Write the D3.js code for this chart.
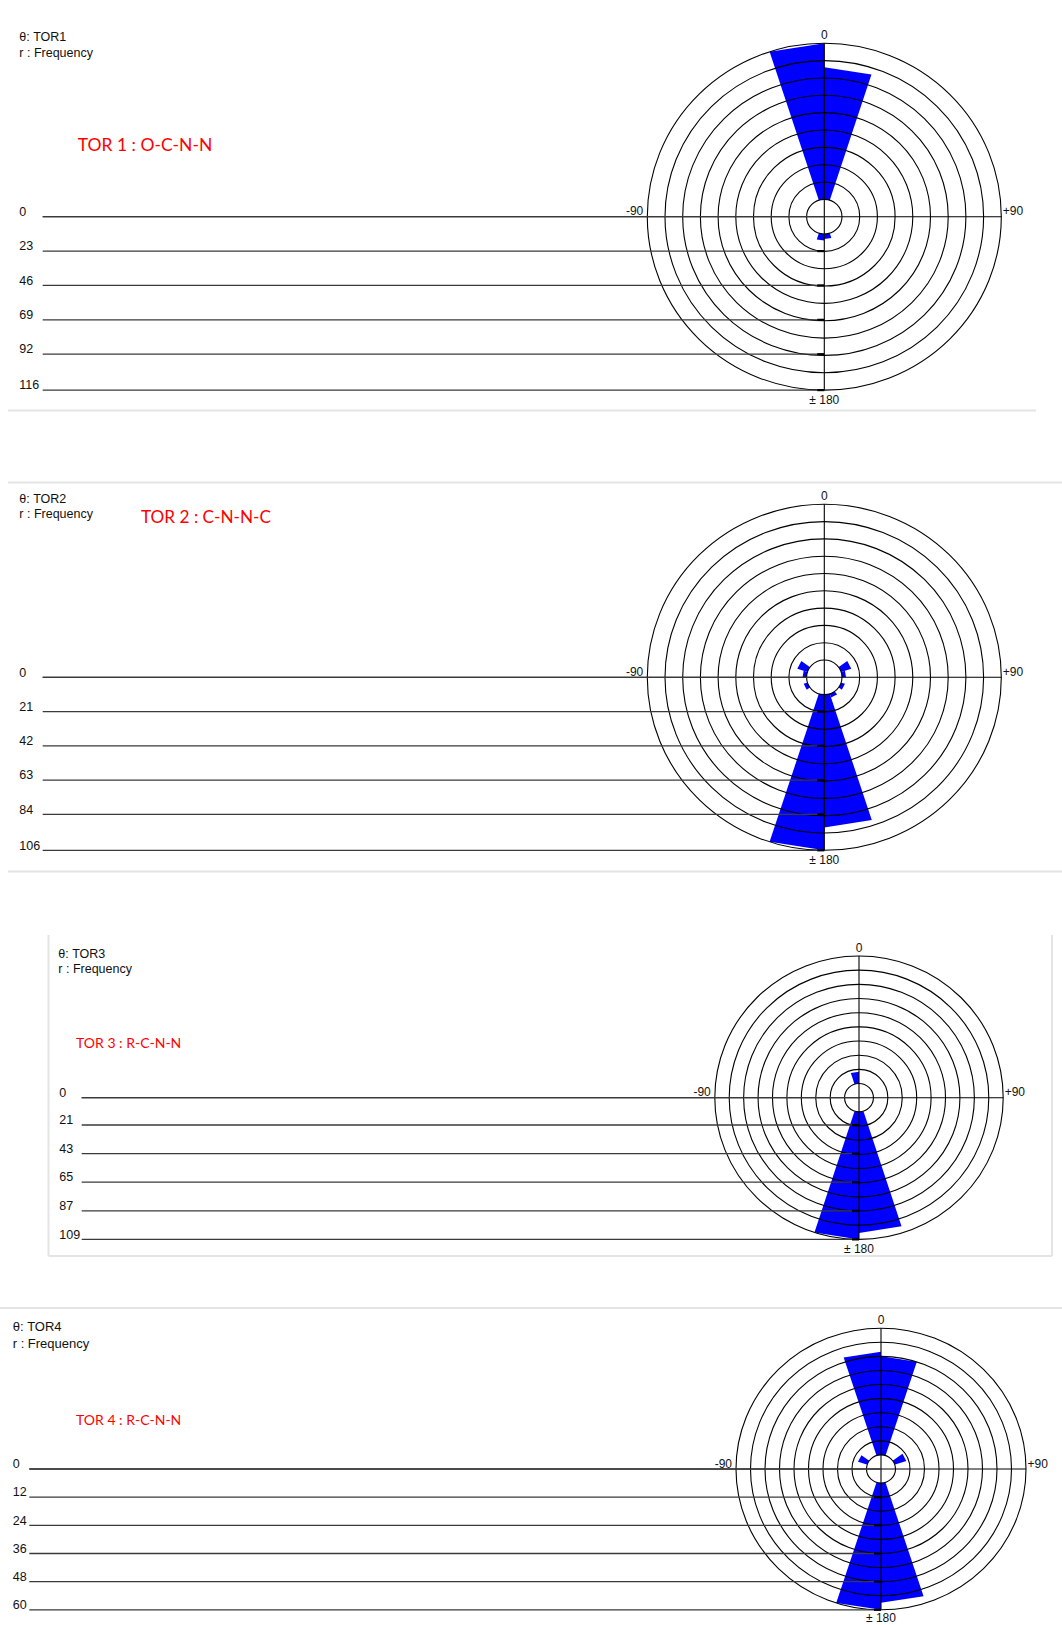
<!DOCTYPE html>
<html>
<head>
<meta charset="utf-8">
<script src="https://cdn.jsdelivr.net/npm/d3@7"></script>
<style>
  body { margin: 0; background: #fff; }
  svg { display: block; }
  text { font-family: "Liberation Sans", Arial, sans-serif; fill: #111; }
  .title { font-family: Lato, "Open Sans", sans-serif; fill: #ff0000; }
</style>
</head>
<body>
<svg id="chart" width="1062" height="1625"></svg>
<script>
// Torsion-angle bins (degrees): 20 bins of 18°, each starting at the listed angle
const binStart = [-180, -162, -144, -126, -108, -90, -72, -54, -36, -18,
                  0, 18, 36, 54, 72, 90, 108, 126, 144, 162];
const binWidth = 18;

// Frequencies per bin, in binStart order
const tor1Freq = [16, 0, 0, 0, 0, 0, 0, 0, 0, 116, 100, 0, 0, 0, 0, 0, 0, 0, 0, 15];
const tor2Freq = [106, 0, 0, 13, 0, 13, 17, 0, 0, 0, 0, 0, 0, 17, 13, 0, 13, 0, 13, 92];
const tor3Freq = [109, 0, 0, 0, 0, 0, 0, 0, 0, 20, 0, 0, 0, 0, 0, 0, 0, 0, 0, 104];
const tor4Freq = [60, 0, 0, 0, 0, 0, 10, 0, 0, 50, 48, 0, 0, 11, 0, 0, 0, 0, 0, 57];

// Radial (frequency) tick labels
const tor1Ticks = [0, 23, 46, 69, 92, 116];
const tor2Ticks = [0, 21, 42, 63, 84, 106];
const tor3Ticks = [0, 21, 43, 65, 87, 109];
const tor4Ticks = [0, 12, 24, 36, 48, 60];

// Angular axis labels and their angles
const angleLabels = ["0", "+90", "± 180", "-90"];
const angleLabelAt = [0, 90, 180, -90];

const thetaNames = ["θ: TOR1", "θ: TOR2", "θ: TOR3", "θ: TOR4"];
const radialName = "r : Frequency";
const titles = ["TOR 1 : O-C-N-N", "TOR 2 : C-N-N-C", "TOR 3 : R-C-N-N", "TOR 4 : R-C-N-N"];

const freqs = [tor1Freq, tor2Freq, tor3Freq, tor4Freq];
const ticks = [tor1Ticks, tor2Ticks, tor3Ticks, tor4Ticks];

// Placement of each polar plot on the page
const layouts = [
  { cx: 824.3, cy: 216.7, rx: 177, ry: 173.4, labX: 19.3, lineX: 42.7, headX: 19.3, headY: 41.2, headSize: 12.5, headGap: 15.6, titleX: 77.7, titleY: 151, titleSize: 17.5, botOff: 14 },
  { cx: 824.3, cy: 677.3, rx: 177, ry: 173.0, labX: 19.3, lineX: 42.7, headX: 19.3, headY: 502.8, headSize: 12.5, headGap: 15.6, titleX: 141, titleY: 523, titleSize: 17.2, botOff: 14 },
  { cx: 859.0, cy: 1097.7, rx: 144.2, ry: 141.7, labX: 59.3, lineX: 81.7, headX: 58.3, headY: 957.8, headSize: 12.5, headGap: 15.0, titleX: 76, titleY: 1048.3, titleSize: 14, botOff: 14 },
  { cx: 881.0, cy: 1469.0, rx: 145, ry: 140.8, labX: 12.7, lineX: 29.3, headX: 12.7, headY: 1330.5, headSize: 13, headGap: 17.3, titleX: 76, titleY: 1425, titleSize: 14, botOff: 12.5 }
];

// Light panel separators
const frames = [
  [8, 410.5, 1036, 410.5],
  [8, 482.5, 1062, 482.5],
  [8, 871.5, 1062, 871.5],
  [48.5, 935, 48.5, 1256],
  [48.5, 1256, 1052, 1256],
  [1052, 935, 1052, 1256],
  [0, 1308, 1062, 1308]
];

const svg = d3.select("#chart");
const rad = d => d * Math.PI / 180;

svg.append("g").selectAll("line").data(frames).join("line")
  .attr("x1", d => d[0]).attr("y1", d => d[1])
  .attr("x2", d => d[2]).attr("y2", d => d[3])
  .attr("stroke", "#e4e4e4").attr("stroke-width", 2);

freqs.forEach((freq, i) => {
  const L = layouts[i];
  const tk = ticks[i];
  const maxV = tk[tk.length - 1];
  const sx = d3.scaleLinear().domain([0, maxV]).range([0, L.rx]);
  const sy = d3.scaleLinear().domain([0, maxV]).range([0, L.ry]);
  const px = (v, a) => L.cx + sx(v) * Math.sin(rad(a));
  const py = (v, a) => L.cy - sy(v) * Math.cos(rad(a));
  const g = svg.append("g");

  // Histogram bars: one triangle per bin, drawn from the centre
  const bars = binStart.map((a, j) => ({ a0: a, a1: a + binWidth, v: freq[j] })).filter(d => d.v > 0);
  g.append("g").selectAll("polygon").data(bars).join("polygon")
    .attr("points", d => [[L.cx, L.cy], [px(d.v, d.a0), py(d.v, d.a0)], [px(d.v, d.a1), py(d.v, d.a1)]]
      .map(p => p.join(",")).join(" "))
    .attr("fill", "#0000ff");

  // Central hole
  const ringVals = d3.range(1, 11).map(k => maxV * k / 10);
  g.append("ellipse")
    .attr("cx", L.cx).attr("cy", L.cy)
    .attr("rx", sx(ringVals[0])).attr("ry", sy(ringVals[0]))
    .attr("fill", "#fff");

  // Concentric rings
  g.append("g").selectAll("ellipse").data(ringVals).join("ellipse")
    .attr("cx", L.cx).attr("cy", L.cy)
    .attr("rx", d => sx(d)).attr("ry", d => sy(d))
    .attr("fill", "none").attr("stroke", "#000").attr("stroke-width", 1.1);

  // Angular axes
  g.append("line")
    .attr("x1", L.cx).attr("x2", L.cx)
    .attr("y1", L.cy - sy(maxV)).attr("y2", L.cy + sy(maxV))
    .attr("stroke", "#000").attr("stroke-width", 1.1);
  g.append("line")
    .attr("x1", L.lineX).attr("x2", L.cx + sx(maxV))
    .attr("y1", L.cy).attr("y2", L.cy)
    .attr("stroke", "#000").attr("stroke-width", 1.1);

  // Radial scale: levelled guide lines running from the tick labels to the 180° axis
  const tickG = g.append("g").selectAll("g").data(tk).join("g");
  tickG.append("line")
    .attr("x1", L.lineX).attr("x2", L.cx)
    .attr("y1", d => L.cy + sy(d)).attr("y2", d => L.cy + sy(d))
    .attr("stroke", "#3a3a3a").attr("stroke-width", 1.3);
  tickG.filter(d => d > 0).append("line")
    .attr("x1", L.cx - 7).attr("x2", L.cx)
    .attr("y1", d => L.cy + sy(d)).attr("y2", d => L.cy + sy(d))
    .attr("stroke", "#000").attr("stroke-width", 2.2);
  tickG.append("text")
    .attr("x", L.labX).attr("y", d => L.cy + sy(d) - 0.8)
    .attr("font-size", 12.5)
    .text(d => d);

  // Angle labels around the circle
  angleLabels.forEach((lab, k) => {
    const a = angleLabelAt[k];
    const t = g.append("text").attr("font-size", 12).text(lab);
    if (a === 0) t.attr("x", L.cx).attr("y", L.cy - sy(maxV) - 4).attr("text-anchor", "middle");
    else if (a === 180) t.attr("x", L.cx).attr("y", L.cy + sy(maxV) + L.botOff).attr("text-anchor", "middle");
    else if (a === 90) t.attr("x", L.cx + sx(maxV) + 1.5).attr("y", L.cy - 1.5);
    else t.attr("x", L.cx - sx(maxV) - 4).attr("y", L.cy - 1.5).attr("text-anchor", "end");
  });

  // Axis names and title
  g.append("text").attr("x", L.headX).attr("y", L.headY).attr("font-size", L.headSize).text(thetaNames[i]);
  g.append("text").attr("x", L.headX).attr("y", L.headY + L.headGap).attr("font-size", L.headSize).text(radialName);
  g.append("text").attr("class", "title")
    .attr("x", L.titleX).attr("y", L.titleY)
    .attr("font-size", L.titleSize).text(titles[i]);
});
</script>
</body>
</html>
